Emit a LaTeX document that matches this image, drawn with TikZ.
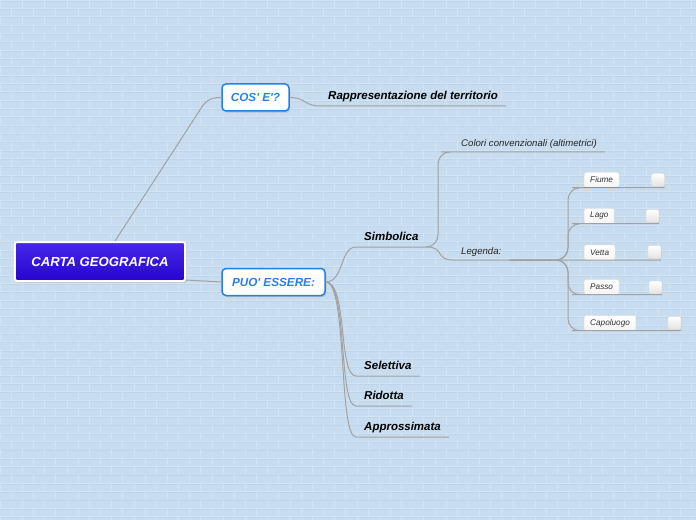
\documentclass[tikz,border=0pt]{standalone}
\usepackage{fontspec}
\setmainfont{Liberation Sans}
\usepackage{xcolor}
\usepackage{tikz}
\usetikzlibrary{positioning, shadows}

\definecolor{bgblue}{RGB}{199,220,239}
\definecolor{brickcol}{RGB}{210,227,244}
\definecolor{brickdark}{RGB}{192,212,233}
\definecolor{roottop}{RGB}{72,40,234}
\definecolor{rootbot}{RGB}{38,4,206}
\definecolor{branchblue}{RGB}{38,128,228}
\definecolor{linkgray}{RGB}{162,162,162}
\definecolor{selblue}{RGB}{70,160,235}

\begin{document}
\begin{tikzpicture}[
    x=0.3mm, y=-0.3mm,
    rootbox/.style={
        rectangle,
        draw=white,
        line width=0.6mm,
        top color=roottop,
        bottom color=rootbot,
        rounded corners=0.6mm,
        minimum width=51mm,
        minimum height=11.7mm,
        text=white,
        font=\fontsize{11.2pt}{13pt}\selectfont\bfseries\itshape,
        drop shadow={shadow xshift=0.4mm, shadow yshift=-0.5mm, opacity=0.3}
    },
    branch/.style={
        rectangle,
        draw=branchblue,
        line width=0.45mm,
        fill=white,
        rounded corners=1.2mm,
        minimum height=8.1mm,
        text=branchblue,
        font=\fontsize{10pt}{12pt}\selectfont\bfseries\itshape,
        drop shadow={shadow xshift=0.4mm, shadow yshift=-0.5mm, opacity=0.3}
    },
    topic/.style={
        anchor=south west,
        inner xsep=2.4mm,
        inner ysep=1.2mm,
        text height=2.4mm,
        text depth=0.6mm,
        font=\fontsize{9.8pt}{12pt}\selectfont\bfseries\itshape
    },
    sub/.style={
        anchor=south west,
        inner xsep=2.4mm,
        inner ysep=1.2mm,
        text height=2mm,
        text depth=0.5mm,
        text=black!85,
        font=\fontsize{8.2pt}{10pt}\selectfont\itshape
    },
    item/.style={
        rectangle,
        anchor=west,
        draw=gray!25,
        top color=white,
        bottom color=gray!8,
        rounded corners=0.6mm,
        inner xsep=1.8mm,
        inner ysep=0pt,
        minimum height=4.5mm,
        text=black!80,
        font=\fontsize{7pt}{8pt}\selectfont\itshape
    },
    tick/.style={
        rectangle,
        draw=gray!30,
        top color=white,
        bottom color=gray!22,
        rounded corners=0.6mm,
        inner sep=0pt,
        minimum width=3.9mm,
        minimum height=3.9mm,
        drop shadow={shadow xshift=0.2mm, shadow yshift=-0.2mm, opacity=0.15}
    },
    conn/.style={
        draw=linkgray,
        line width=0.3mm
    }
]

\useasboundingbox (0,0) rectangle (696,520);
\fill[bgblue] (0,0) rectangle (696,520);
\foreach \r in {0,...,62}{
    \draw[brickcol, line width=0.18mm] (0,8.33*\r) -- (696,8.33*\r);
    \draw[brickdark, line width=0.08mm] (0,8.33*\r+0.8) -- (696,8.33*\r+0.8);
    \pgfmathsetmacro{\off}{mod(\r,2)*11.15}
    \foreach \c in {0,...,31}
        \draw[brickcol, line width=0.18mm] (\off+22.3*\c,8.33*\r) -- ++(0,8.33);
}

\node[rootbox] (root) at (100,261.5) {CARTA GEOGRAFICA};
\node[branch, minimum width=20.1mm] (cose) at (255.5,97.5) {COS\textquotesingle{} E\textquotesingle?};
\node[branch, minimum width=30.9mm] (puo) at (273.5,282) {PUO\textquotesingle{} ESSERE:};

\node[topic] (rapp) at (320,106) {Rappresentazione del territorio};
\node[topic] (simb) at (356,247) {Simbolica};
\node[topic] (sel) at (356,376) {Selettiva};
\node[topic] (rid) at (356,406) {Ridotta};
\node[topic] (appr) at (356,437) {Approssimata};

\node[sub] (colori) at (453,152) {Colori convenzionali (altimetrici)};
\node[sub] (legenda) at (453,260) {Legenda:};

\node[item] (fiume) at (584,180) {Fiume};
\node[item] (lago) at (584,216) {Lago};
\node[item] (vetta) at (584,252.5) {Vetta};
\node[item] (passo) at (584,287) {Passo};
\node[item] (capo) at (584,323) {Capoluogo};

\node[tick] (fiumesq) at (658,180) {};
\node[tick] (lagosq) at (652.5,216) {};
\node[tick] (vettasq) at (654.5,252) {};
\node[tick] (passosq) at (655.5,287.5) {};
\node[tick] (caposq) at (674.5,323) {};

\draw[conn] ([xshift=4.5mm]root.north) -- (198,113) .. controls (205,101) and (209,97.5) .. (cose.west);
\draw[conn] ([yshift=0.6mm]root.south east) -- (puo.west);

\draw[conn] (cose.east) .. controls +(16,0) and +(-16,0) .. (rapp.south west) -- (rapp.south east);
\draw[conn] (puo.east) .. controls +(18,0) and +(-16,0) .. (simb.south west) -- (simb.south east);
\draw[conn] (puo.east) .. controls +(22,0) and +(-18,0) .. (sel.south west) -- (sel.south east);
\draw[conn] (puo.east) .. controls +(22,0) and +(-18,0) .. (rid.south west) -- (rid.south east);
\draw[conn] (puo.east) .. controls +(22,0) and +(-18,0) .. (appr.south west) -- (appr.south east);

\draw[conn, rounded corners=3.6mm] (simb.south east) -| ([xshift=-4.5mm]colori.south west) -- (colori.south west) -- (colori.south east);
\draw[conn] (simb.south east) .. controls +(18,0) and +(-18,0) .. (legenda.south west) -- (legenda.south east);

\draw[conn, rounded corners=3.6mm] (legenda.south east) -| ([xshift=-4.8mm]fiume.south west) -- (fiume.south west) -- (fiume.south west -| fiumesq.east);
\draw[conn, rounded corners=3.6mm] (legenda.south east) -| ([xshift=-4.8mm]lago.south west) -- (lago.south west) -- (lago.south west -| lagosq.east);
\draw[conn] (legenda.south east) -- (vetta.south west) -- (vetta.south west -| vettasq.east);
\draw[conn, rounded corners=3.6mm] (legenda.south east) -| ([xshift=-4.8mm]passo.south west) -- (passo.south west) -- (passo.south west -| passosq.east);
\draw[conn, rounded corners=3.6mm] (legenda.south east) -| ([xshift=-4.8mm]capo.south west) -- (capo.south west) -- (capo.south west -| caposq.east);

\draw[selblue, line width=0.35mm] (fiume.south west) -- (fiume.south east);

\end{tikzpicture}
\end{document}
